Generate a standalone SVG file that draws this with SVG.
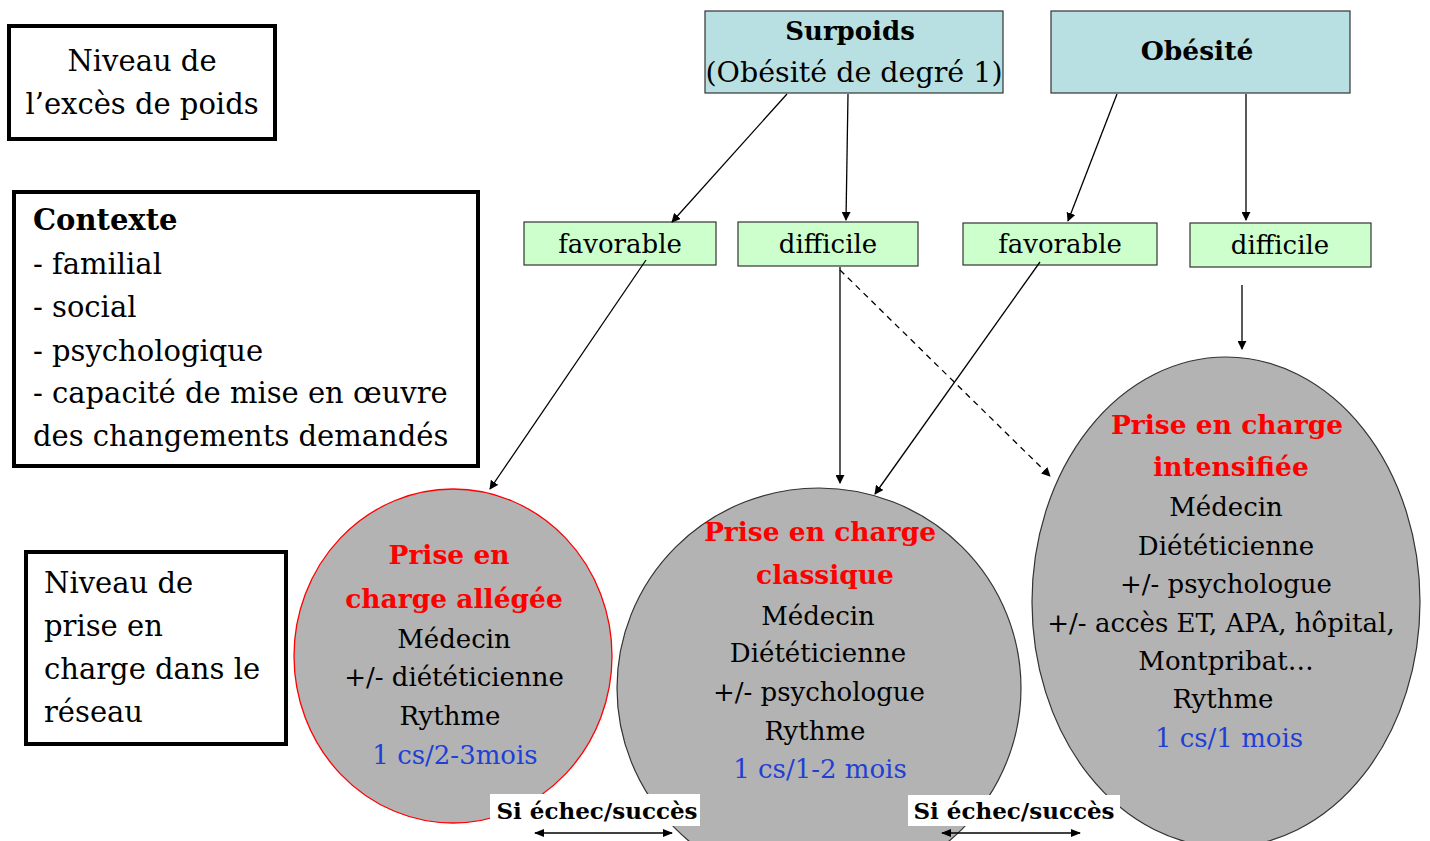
<svg xmlns="http://www.w3.org/2000/svg" width="1430" height="841" viewBox="0 0 1430 841">
<defs>
<style>
text{font-family:"DejaVu Serif","Liberation Serif",serif;fill:#000}
.t{font-size:29px}
.c{font-size:26px;text-anchor:middle}
.r{font-size:26.5px;font-weight:bold;fill:#ff0000;text-anchor:middle}
.b{fill:#1f3fd6}
.frame{fill:#fff;stroke:#000;stroke-width:4}
.blue{fill:#b8e0e2;stroke:#333;stroke-width:1.2}
.green{fill:#ccffcc;stroke:#333;stroke-width:1.2}
.lbl{font-size:26px;text-anchor:middle}
.conn line{stroke:#000;stroke-width:1.3;marker-end:url(#ah)}
</style>
<marker id="ah" viewBox="0 0 10 10" refX="9" refY="5" markerWidth="9" markerHeight="9" markerUnits="userSpaceOnUse" orient="auto"><path d="M0,0L10,5L0,10z" fill="#000"/></marker>
<marker id="ah2" viewBox="0 0 10 10" refX="9" refY="5" markerWidth="11" markerHeight="10" markerUnits="userSpaceOnUse" orient="auto-start-reverse"><path d="M0,1L10,5L0,9z" fill="#000"/></marker>
</defs>
<rect width="1430" height="841" fill="#fff"/>

<g id="niveau-exces">
<rect class="frame" x="9" y="26" width="266" height="113"/>
<text class="t" x="142" y="71" text-anchor="middle">Niveau de</text>
<text class="t" x="142" y="114" text-anchor="middle">l’excès de poids</text>
</g>

<g id="contexte">
<rect class="frame" x="14" y="192" width="464" height="274"/>
<text class="t" x="33" y="230" font-weight="bold" font-size="27">Contexte</text>
<text class="t" x="33" y="274">- familial</text>
<text class="t" x="33" y="317">- social</text>
<text class="t" x="33" y="361">- psychologique</text>
<text class="t" x="33" y="403">- capacité de mise en œuvre</text>
<text class="t" x="33" y="446">des changements demandés</text>
</g>

<g id="niveau-prise">
<rect class="frame" x="26" y="552" width="260" height="192"/>
<text class="t" x="44" y="593">Niveau de</text>
<text class="t" x="44" y="636">prise en</text>
<text class="t" x="44" y="679">charge dans le</text>
<text class="t" x="44" y="722">réseau</text>
</g>

<g id="surpoids">
<rect class="blue" x="705" y="11" width="298" height="82"/>
<text x="850" y="40" font-size="26" font-weight="bold" text-anchor="middle">Surpoids</text>
<text x="854" y="82" font-size="28.5" text-anchor="middle">(Obésité de degré 1)</text>
</g>

<g id="obesite">
<rect class="blue" x="1051" y="11" width="299" height="82"/>
<text x="1197" y="60" font-size="26.5" font-weight="bold" text-anchor="middle">Obésité</text>
</g>

<g id="favorable-1">
<rect class="green" x="524" y="222" width="192" height="43"/>
<text class="lbl" x="620" y="253">favorable</text>
</g>
<g id="difficile-1">
<rect class="green" x="738" y="222" width="180" height="44"/>
<text class="lbl" x="828" y="253">difficile</text>
</g>
<g id="favorable-2">
<rect class="green" x="963" y="223" width="194" height="42"/>
<text class="lbl" x="1060" y="253">favorable</text>
</g>
<g id="difficile-2">
<rect class="green" x="1190" y="223" width="181" height="44"/>
<text class="lbl" x="1280" y="254">difficile</text>
</g>

<g id="pec-allegee">
<ellipse cx="453" cy="656" rx="159" ry="167" fill="#b3b3b3" stroke="#ff0000" stroke-width="1.3"/>
<text class="r" x="449" y="564">Prise en</text>
<text class="r" x="454" y="608">charge allégée</text>
<text class="c" x="454" y="648">Médecin</text>
<text class="c" x="454" y="686">+/- diététicienne</text>
<text class="c" x="450" y="725">Rythme</text>
<text class="c b" x="455" y="764">1 cs/2-3mois</text>
</g>

<g id="pec-classique">
<ellipse cx="819" cy="688" rx="202" ry="200" fill="#b3b3b3" stroke="#333" stroke-width="1.2"/>
<text class="r" x="820" y="541">Prise en charge</text>
<text class="r" x="825" y="584">classique</text>
<text class="c" x="818" y="625">Médecin</text>
<text class="c" x="818" y="662">Diététicienne</text>
<text class="c" x="819" y="701">+/- psychologue</text>
<text class="c" x="815" y="740">Rythme</text>
<text class="c b" x="820" y="778">1 cs/1-2 mois</text>
</g>

<g id="pec-intensifiee">
<ellipse cx="1226" cy="602" rx="194" ry="245" fill="#b3b3b3" stroke="#333" stroke-width="1.2"/>
<text class="r" x="1227" y="434">Prise en charge</text>
<text class="r" x="1231" y="476">intensifiée</text>
<text class="c" x="1226" y="516">Médecin</text>
<text class="c" x="1226" y="555">Diététicienne</text>
<text class="c" x="1226" y="593">+/- psychologue</text>
<text class="c" x="1221" y="632">+/- accès ET, APA, hôpital,</text>
<text class="c" x="1226" y="670">Montpribat…</text>
<text class="c" x="1223" y="708">Rythme</text>
<text class="c b" x="1229" y="747">1 cs/1 mois</text>
</g>

<g id="connectors" class="conn">
<line x1="787" y1="94" x2="672" y2="222"/>
<line x1="848" y1="94" x2="846" y2="220"/>
<line x1="1117" y1="94" x2="1068" y2="221"/>
<line x1="1246" y1="94" x2="1246" y2="220"/>
<line x1="646" y1="260" x2="490" y2="489"/>
<line x1="840" y1="267" x2="840" y2="483"/>
<line x1="840" y1="270" x2="1050" y2="476" stroke-dasharray="6,5"/>
<line x1="1040" y1="262" x2="875" y2="494"/>
<line x1="1242" y1="285" x2="1242" y2="349"/>
<line x1="535" y1="833" x2="672" y2="833" marker-start="url(#ah2)" style="marker-end:url(#ah2)"/>
<line x1="942" y1="833" x2="1080" y2="833" marker-start="url(#ah2)" style="marker-end:url(#ah2)"/>
</g>

<g id="label-1">
<rect x="490" y="794" width="210" height="32" fill="#fff"/>
<text x="597" y="819" font-size="23" font-weight="bold" text-anchor="middle">Si échec/succès</text>
</g>
<g id="label-2">
<rect x="908" y="795" width="212" height="31" fill="#fff"/>
<text x="1014" y="819" font-size="23" font-weight="bold" text-anchor="middle">Si échec/succès</text>
</g>
</svg>
